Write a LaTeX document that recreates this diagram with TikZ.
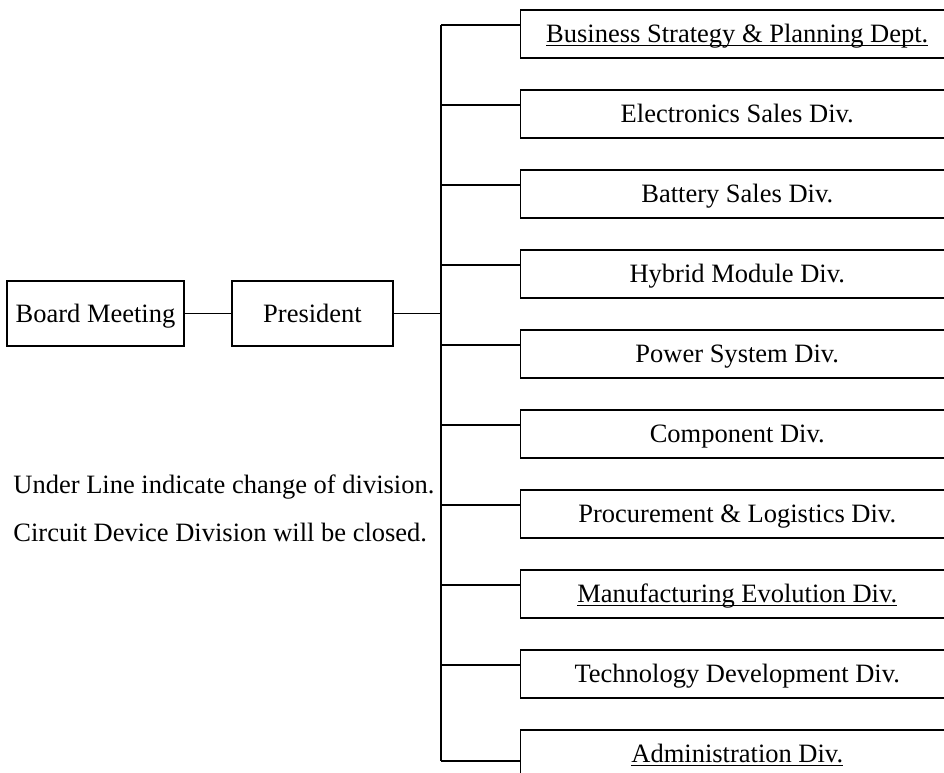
\documentclass[tikz,border=0pt]{standalone}
\usepackage{fontspec}
\setmainfont{Liberation Serif}
\newcommand\myul[1]{\setbox0\hbox{#1}\rlap{\rule[-3.5pt]{\wd0}{1.2pt}}\box0}
\begin{document}
\begin{tikzpicture}[x=1pt,y=-1pt,line width=1.5pt,
  every node/.style={font=\fontsize{26.5}{30}\selectfont},
  unit/.style={draw, rectangle, inner sep=0pt, minimum width=434pt, minimum height=48pt, text height=21pt, text depth=3pt, anchor=north west},
  topbox/.style={draw, rectangle, inner sep=0pt, minimum height=65pt, text height=21pt, text depth=3pt},
  note/.style={anchor=base west, inner sep=0pt}]
\useasboundingbox (0,0) rectangle (944,772);
\clip (0,0) rectangle (944,772);
\node[topbox, minimum width=177pt] (board) at (95.5,313.5) {Board Meeting};
\node[topbox, minimum width=161pt] (pres) at (312.5,313.5) {President};
\coordinate (bustop) at (441,25);
\coordinate (busbot) at (441,761);
\coordinate (busmid) at (441,313.5);
\draw (board.east) -- (pres.west);
\draw (pres.east) -- (busmid);
\draw (bustop) -- (busbot);
\node[unit] (u0) at (519.5,9) {\myul{Business Strategy \& Planning Dept.}};
\node[unit] (u1) at (519.5,89) {Electronics Sales Div.};
\node[unit] (u2) at (519.5,169) {Battery Sales Div.};
\node[unit] (u3) at (519.5,249) {Hybrid Module Div.};
\node[unit] (u4) at (519.5,329) {Power System Div.};
\node[unit] (u5) at (519.5,409) {Component Div.};
\node[unit] (u6) at (519.5,489) {Procurement \& Logistics Div.};
\node[unit] (u7) at (519.5,569) {\myul{Manufacturing Evolution Div.}};
\node[unit] (u8) at (519.5,649) {Technology Development Div.};
\node[unit] (u9) at (519.5,729) {\myul{Administration Div.}};
\foreach \k in {0,...,8}{
  \coordinate (b\k) at (441,{25+80*\k});
  \draw (b\k) -- (b\k -| u\k.west);
}
\draw (busbot) -- (busbot -| u9.west);
\node[note] (n1) at (12.7,493) {Under Line indicate change of division.};
\node[note] (n2) at (12.7,541) {Circuit Device Division will be closed.};
\end{tikzpicture}
\end{document}
